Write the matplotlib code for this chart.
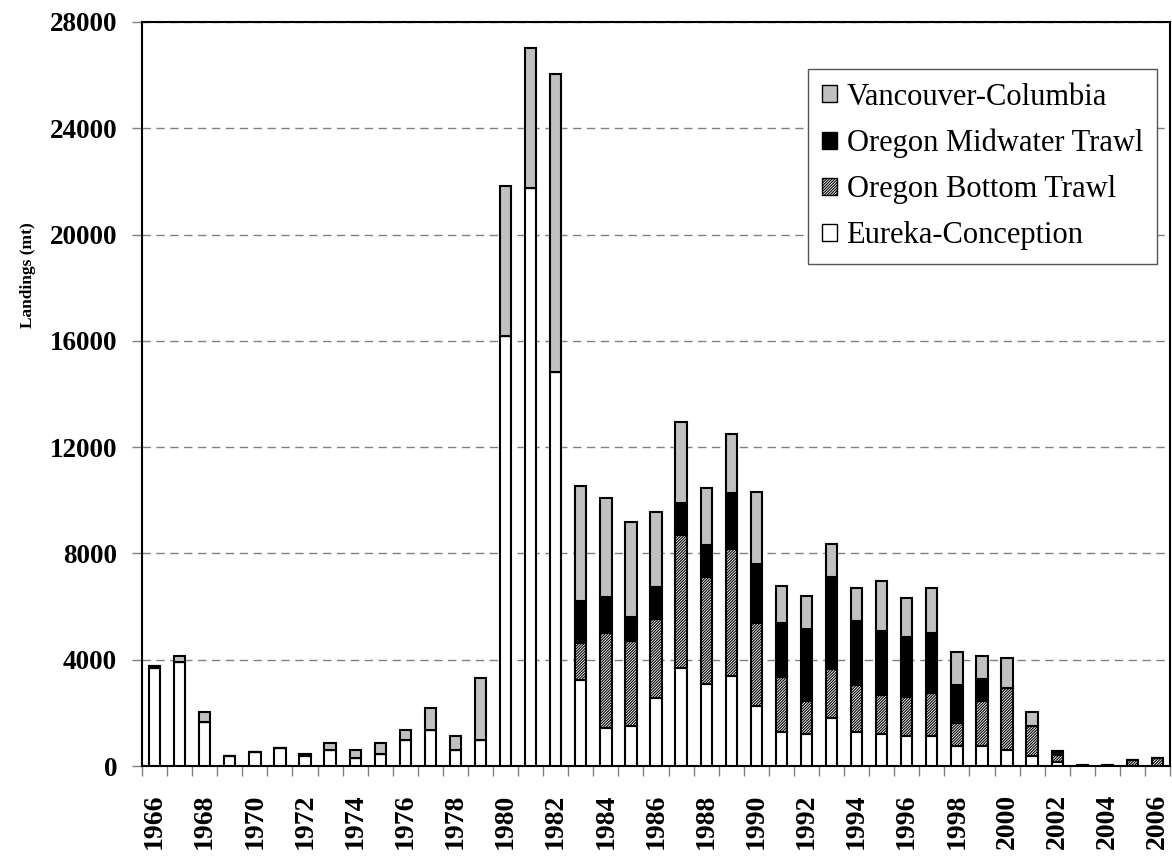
import numpy as np
import matplotlib
matplotlib.use("Agg")
import matplotlib.pyplot as plt
from matplotlib.ticker import FixedLocator, NullFormatter

# landings (mt) by year
years = list(range(1966, 2007))

eureka = [3680, 3920, 1650, 390, 530, 690, 380, 600, 300, 460, 980, 1350, 600, 980,
          16180, 21740, 14840, 3240, 1430, 1500, 2570, 3700, 3090, 3390, 2270, 1280,
          1220, 1820, 1270, 1220, 1130, 1130, 760, 760, 610, 380, 150, 0, 0, 0, 0]
bottom_trawl = [0, 0, 0, 0, 0, 0, 0, 0, 0, 0, 0, 0, 0, 0, 0, 0, 0,
                1400, 3590, 3210, 2960, 4990, 4020, 4780, 3120, 2080, 1230, 1830, 1780,
                1470, 1480, 1610, 860, 1670, 2330, 1130, 260, 0, 0, 220, 300]
midwater_trawl = [80, 0, 0, 0, 0, 0, 90, 0, 0, 0, 0, 0, 0, 0, 0, 0, 0,
                  1570, 1340, 890, 1190, 1190, 1210, 2110, 2230, 2020, 2710, 3460, 2410,
                  2390, 2240, 2270, 1430, 830, 0, 0, 150, 50, 50, 0, 0]
vancouver = [0, 230, 400, 0, 0, 0, 0, 250, 310, 390, 390, 840, 540, 2340, 5660, 5290, 11210,
             4340, 3740, 3590, 2850, 3080, 2150, 2230, 2700, 1400, 1250, 1250, 1250,
             1870, 1490, 1700, 1250, 890, 1130, 540, 0, 0, 0, 0, 0]

plt.rcParams['hatch.linewidth'] = 0.8

fig = plt.figure(figsize=(11.72, 8.56), dpi=100)
ax = fig.add_axes([0.1212, 0.1051, 0.8771, 0.8692])

x = np.arange(len(years))
w = 0.45
lw = 1.5

e = np.array(eureka)
b = np.array(bottom_trawl)
m = np.array(midwater_trawl)
v = np.array(vancouver)

ax.bar(x, e, w, color='white', edgecolor='black', linewidth=lw, label='Eureka-Conception', zorder=3)
ax.bar(x, b, w, bottom=e, color='white', edgecolor='black', linewidth=lw, hatch='////////////',
       label='Oregon Bottom Trawl', zorder=3)
ax.bar(x, m, w, bottom=e + b, color='black', edgecolor='black', linewidth=lw,
       label='Oregon Midwater Trawl', zorder=3)
ax.bar(x, v, w, bottom=e + b + m, color='#c0c0c0', edgecolor='black', linewidth=lw,
       label='Vancouver-Columbia', zorder=3)

ax.set_xlim(-0.5, len(years) - 0.5)
ax.set_ylim(0, 28000)

# y axis
ax.set_yticks(range(0, 28001, 4000))
ax.yaxis.grid(True, linestyle=(0, (6, 4)), color='#808080', linewidth=1.0, zorder=0)
for lab in ax.get_yticklabels():
    lab.set_fontfamily('Liberation Serif')
    lab.set_fontweight('bold')
    lab.set_fontsize(19.5)
ax.tick_params(axis='y', direction='out', length=7, width=1, color='#808080', pad=11)

# x axis: ticks between categories, labels every other year
ax.set_xticks(x[::2])
ax.set_xticklabels([str(y) for y in years[::2]], rotation=90,
                   fontfamily='Liberation Serif', fontweight='bold', fontsize=20)
ax.tick_params(axis='x', which='major', length=0, pad=20)
ax.xaxis.set_minor_locator(FixedLocator(np.arange(-0.5, len(years), 1.0)))
ax.xaxis.set_minor_formatter(NullFormatter())
ax.tick_params(axis='x', which='minor', direction='out', length=7, width=1, color='#808080')

for s in ax.spines.values():
    s.set_linewidth(1.5)
    s.set_color('black')

ax.set_ylabel('Landings (mt)', fontfamily='Liberation Serif', fontweight='bold', fontsize=12.5)
ax.yaxis.set_label_coords(-0.103, 0.66)

h, l = ax.get_legend_handles_labels()
leg = ax.legend(h[::-1], l[::-1], loc='upper right', bbox_to_anchor=(0.987, 0.937),
                borderaxespad=0, prop={'family': 'Liberation Serif', 'size': 22},
                handlelength=0.5, handleheight=0.5, handletextpad=0.3,
                labelspacing=0.56, borderpad=0.45, fancybox=False, framealpha=1)
leg.get_frame().set_edgecolor('#555555')
leg.get_frame().set_linewidth(1.0)
for p in leg.get_patches():
    p.set_linewidth(1.0)

fig.savefig('out.png', dpi=100)
